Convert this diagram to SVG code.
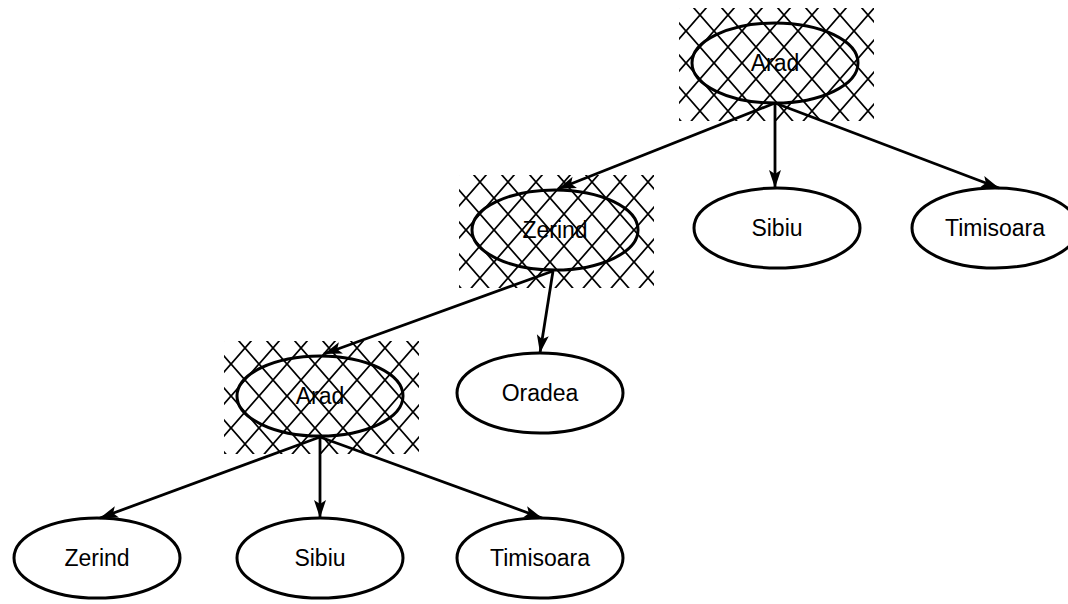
<svg xmlns="http://www.w3.org/2000/svg" width="1068" height="604" viewBox="0 0 1068 604">
<style>
.node ellipse{fill:none;stroke:#000;stroke-width:3}
.node text{font-family:"Liberation Sans",Arial,sans-serif;font-size:23px;fill:#000;text-anchor:middle}
.hatch{fill:url(#xh);stroke:none}
.edge{stroke:#000;stroke-width:2.8;fill:none;marker-end:url(#ah)}
</style>
<defs>
<pattern id="xh" patternUnits="userSpaceOnUse" x="-89" y="-64" width="28" height="32">
<path d="M0,0 L28,32 M28,0 L0,32" stroke="#000" stroke-width="1.8"/>
</pattern>
<marker id="ah" markerUnits="userSpaceOnUse" markerWidth="22" markerHeight="16" refX="19" refY="8" orient="auto" viewBox="0 0 22 16">
<path d="M19,8 L1,2 L5,8 L1,14 Z" fill="#000"/>
</marker>
</defs>
<g id="connectors">
<line class="edge" x1="775" y1="103" x2="558" y2="189"/>
<line class="edge" x1="775" y1="103" x2="775" y2="188"/>
<line class="edge" x1="775" y1="103" x2="999" y2="188"/>
<line class="edge" x1="553" y1="271" x2="324" y2="354"/>
<line class="edge" x1="553" y1="271" x2="540" y2="353"/>
<line class="edge" x1="320" y1="437" x2="100" y2="518"/>
<line class="edge" x1="320" y1="437" x2="320" y2="518"/>
<line class="edge" x1="320" y1="437" x2="542" y2="518"/>
</g>
<g id="n-arad1" class="node" transform="translate(775,63)">
<rect class="hatch" x="-96" y="-55" width="195" height="113"/>
<ellipse rx="83" ry="40"/>
<text y="8">Arad</text>
</g>
<g id="n-zerind1" class="node" transform="translate(555,230)">
<rect class="hatch" x="-96" y="-55" width="195" height="113"/>
<ellipse rx="83" ry="40"/>
<text y="8">Zerind</text>
</g>
<g id="n-sibiu1" class="node" transform="translate(777,228)">
<ellipse rx="83" ry="40"/>
<text y="8">Sibiu</text>
</g>
<g id="n-timisoara1" class="node" transform="translate(995,228)">
<ellipse rx="83" ry="40"/>
<text y="8">Timisoara</text>
</g>
<g id="n-arad2" class="node" transform="translate(320,396)">
<rect class="hatch" x="-96" y="-55" width="195" height="113"/>
<ellipse rx="83" ry="40"/>
<text y="8">Arad</text>
</g>
<g id="n-oradea" class="node" transform="translate(540,393)">
<ellipse rx="83" ry="40"/>
<text y="8">Oradea</text>
</g>
<g id="n-zerind2" class="node" transform="translate(97,558)">
<ellipse rx="83" ry="40"/>
<text y="8">Zerind</text>
</g>
<g id="n-sibiu2" class="node" transform="translate(320,558)">
<ellipse rx="83" ry="40"/>
<text y="8">Sibiu</text>
</g>
<g id="n-timisoara2" class="node" transform="translate(540,558)">
<ellipse rx="83" ry="40"/>
<text y="8">Timisoara</text>
</g>
</svg>
